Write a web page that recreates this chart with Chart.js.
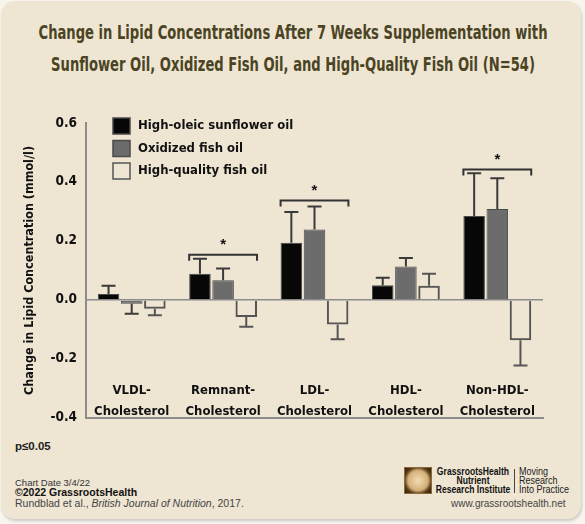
<!DOCTYPE html>
<html>
<head>
<meta charset="utf-8">
<script src="https://cdn.jsdelivr.net/npm/chart.js@4.4.1/dist/chart.umd.min.js"></script>
<style>
  html, body { margin: 0; padding: 0; background: #f8f5ef; }
  body { width: 585px; height: 524px; position: relative; overflow: hidden; font-family: 'Liberation Sans', Arial, sans-serif; }
  #card { position: absolute; left: 1px; top: 1px; width: 580px; height: 518px; background: #efe5d3; border-radius: 14px; box-shadow: 1px 2px 3px rgba(0,0,0,.18); }
  .title { position: absolute; left: 292.5px; font-family: 'Liberation Sans Narrow', 'DejaVu Sans Condensed', sans-serif; font-weight: bold; font-size: 19px; line-height: 20px; color: #4a4423; white-space: nowrap; transform-origin: 50% 50%; }
  #chartBox { position: absolute; left: 0; top: 95px; width: 585px; height: 340px; }
  .ft { position: absolute; white-space: nowrap; }
  .sq { transform: scaleX(0.82); }
  #logo { position: absolute; left: 404px; top: 467px; width: 26px; height: 25px; border: 1px solid #8a6a3a; background: radial-gradient(circle at 50% 50%, #f3dcb0 0%, #d4b07a 55%, #5a3d16 75%, #2b1d0c 100%); }
</style>
</head>
<body>
<div id="card"></div>
<div class="title" id="t1" style="top:22px">Change in Lipid Concentrations After 7 Weeks Supplementation with</div>
<div class="title" id="t2" style="top:54px">Sunflower Oil, Oxidized Fish Oil, and High-Quality Fish Oil (N=54)</div>
<div id="chartBox"><canvas id="myChart" width="585" height="340"></canvas></div>

<div class="ft" style="left:15px;top:440px;font-size:11.5px;font-weight:bold;color:#222">p≤0.05</div>
<div class="ft" style="left:15px;top:477px;font-size:9.5px;color:#333">Chart Date 3/4/22</div>
<div class="ft" style="left:15px;top:486px;font-size:10.5px;font-weight:bold;color:#111">©2022 GrassrootsHealth</div>
<div class="ft" style="left:15px;top:497px;font-size:10.5px;color:#444">Rundblad et al., <i>British Journal of Nutrition</i>, 2017.</div>

<div id="logo"></div>
<div class="ft sq" style="left:423px;top:467px;width:100px;text-align:center;transform-origin:50% 50%;font-weight:bold;font-size:10.5px;line-height:8.8px;color:#111">GrassrootsHealth<br>Nutrient<br>Research Institute</div>
<div class="ft" style="left:514px;top:469px;width:1px;height:24px;background:#444"></div>
<div class="ft sq" style="left:519px;top:467px;transform-origin:0 50%;font-size:11px;line-height:8.8px;color:#222">Moving<br>Research<br>Into Practice</div>
<div class="ft" style="left:451px;top:498px;font-size:10px;color:#444">www.grassrootshealth.net</div>

<script>
const FONT = "'Liberation Sans Narrow', 'DejaVu Sans Condensed', sans-serif";

const categories = [['VLDL-', 'Cholesterol'], ['Remnant-', 'Cholesterol'], ['LDL-', 'Cholesterol'], ['HDL-', 'Cholesterol'], ['Non-HDL-', 'Cholesterol']];
const seriesNames = ['High-oleic sunflower oil', 'Oxidized fish oil', 'High-quality fish oil'];
const sunflower = [0.02, 0.089, 0.194, 0.05, 0.285];
const oxidized = [-0.013, 0.067, 0.239, 0.113, 0.308];
const highQuality = [-0.03, -0.058, -0.083, 0.048, -0.137];
const sunflowerErr = [0.028, 0.051, 0.104, 0.025, 0.145];
const oxidizedErr = [0.034, 0.04, 0.078, 0.029, 0.105];
const highQualityErr = [0.022, 0.033, 0.05, 0.041, 0.085];
const yTicks = [-0.4, -0.2, 0, 0.2, 0.4, 0.6];
// significant groups (index into categories) and bracket height
const sigGroups = [1, 2, 4];
const sigLevels = [0.153, 0.337, 0.442];

// squeeze the title lines to the reference width, centred
const t1 = document.getElementById('t1');
const k = 509 / t1.getBoundingClientRect().width;
['t1', 't2'].forEach(id => {
    document.getElementById(id).style.transform = 'translateX(-50%) scaleX(' + k + ')';
});

const errorBars = {
    id: 'errorBars',
    afterDatasetsDraw(chart) {
        const ctx = chart.ctx;
        const y = chart.scales.y;
        chart.data.datasets.forEach((ds, i) => {
            chart.getDatasetMeta(i).data.forEach((bar, j) => {
                const v = ds.data[j];
                const e = ds.errors[j];
                const end = y.getPixelForValue(v < 0 ? v - e : v + e);
                ctx.save();
                ctx.strokeStyle = ds.errorColor;
                ctx.lineWidth = 2;
                ctx.beginPath();
                ctx.moveTo(bar.x, bar.y);
                ctx.lineTo(bar.x, end);
                ctx.moveTo(bar.x - 7, end);
                ctx.lineTo(bar.x + 7, end);
                ctx.stroke();
                ctx.restore();
            });
        });
    }
};

const brackets = {
    id: 'brackets',
    afterDatasetsDraw(chart) {
        const ctx = chart.ctx;
        const y = chart.scales.y;
        const last = chart.data.datasets.length - 1;
        sigGroups.forEach((g, n) => {
            const a = chart.getDatasetMeta(0).data[g];
            const b = chart.getDatasetMeta(last).data[g];
            const x1 = a.x - a.width / 2;
            const x2 = b.x + b.width / 2;
            const yb = y.getPixelForValue(sigLevels[n]);
            ctx.save();
            ctx.strokeStyle = '#333';
            ctx.lineWidth = 2;
            ctx.beginPath();
            ctx.moveTo(x1, yb + 6);
            ctx.lineTo(x1, yb);
            ctx.lineTo(x2, yb);
            ctx.lineTo(x2, yb + 6);
            ctx.stroke();
            ctx.fillStyle = '#111';
            ctx.font = "bold 15px 'Liberation Sans', Arial, sans-serif";
            ctx.textAlign = 'center';
            ctx.textBaseline = 'middle';
            ctx.fillText('*', (x1 + x2) / 2, yb - 10);
            ctx.restore();
        });
    }
};

const boxLegend = {
    id: 'boxLegend',
    afterDraw(chart) {
        const ctx = chart.ctx;
        const area = chart.chartArea;
        ctx.save();
        chart.data.datasets.forEach((ds, i) => {
            const bx = area.left + 27;
            const by = area.top - 5 + i * 22.5;
            ctx.fillStyle = ds.backgroundColor;
            ctx.fillRect(bx, by, 17, 16);
            ctx.strokeStyle = ds.borderColor;
            ctx.lineWidth = 1.5;
            ctx.strokeRect(bx, by, 17, 16);
            ctx.fillStyle = '#111';
            ctx.font = 'bold 13px ' + FONT;
            ctx.textAlign = 'left';
            ctx.textBaseline = 'middle';
            ctx.fillText(ds.label, bx + 25, by + 8);
        });
        ctx.restore();
    }
};

new Chart(document.getElementById('myChart'), {
    type: 'bar',
    data: {
        labels: categories,
        datasets: [
            {
                label: seriesNames[0],
                data: sunflower,
                errors: sunflowerErr,
                errorColor: '#3a3a3a',
                backgroundColor: '#070707',
                borderColor: '#4a4a4a',
                borderWidth: 1,
            },
            {
                label: seriesNames[1],
                data: oxidized,
                errors: oxidizedErr,
                errorColor: '#3a3a3a',
                backgroundColor: '#6c6c6c',
                borderColor: '#4a4a4a',
                borderWidth: 1,
            },
            {
                label: seriesNames[2],
                data: highQuality,
                errors: highQualityErr,
                errorColor: '#555',
                backgroundColor: 'rgba(0,0,0,0)',
                borderColor: '#555',
                borderWidth: 2,
            }
        ]
    },
    options: {
        responsive: false,
        animation: false,
        datasets: {
            bar: { categoryPercentage: 0.76, barPercentage: 0.93 }
        },
        layout: { padding: { top: 28, right: 42, bottom: 11, left: 0 } },
        plugins: {
            legend: { display: false },
            tooltip: { enabled: false }
        },
        scales: {
            x: {
                grid: { display: false },
                border: { display: true, color: '#8c8c8c', width: 2 },
                ticks: {
                    mirror: true,
                    padding: 17,
                    maxRotation: 0,
                    autoSkip: false,
                    color: '#111',
                    font: { family: FONT, size: 13, weight: 'bold', lineHeight: '21.5px' }
                },
                afterFit(s) { s.height = 0; }
            },
            y: {
                min: -0.4,
                max: 0.6,
                afterBuildTicks(s) { s.ticks = yTicks.map(v => ({ value: v })); },
                grid: {
                    drawTicks: false,
                    color: c => (c.tick && c.tick.value === 0) ? '#8c8c8c' : 'rgba(0,0,0,0)',
                    lineWidth: 1.5
                },
                border: { display: true, color: '#8c8c8c', width: 2 },
                ticks: {
                    padding: 9,
                    color: '#111',
                    font: { family: FONT, size: 13.5, weight: 'bold' },
                    callback: v => v.toFixed(1)
                },
                title: {
                    display: true,
                    text: 'Change in Lipid Concentration (mmol/l)',
                    color: '#111',
                    font: { family: FONT, size: 12.5, weight: 'bold' },
                    padding: { top: 22, bottom: 0 }
                },
                afterFit(s) { s.width = 86; }
            }
        }
    },
    plugins: [errorBars, brackets, boxLegend]
});
</script>
</body>
</html>
